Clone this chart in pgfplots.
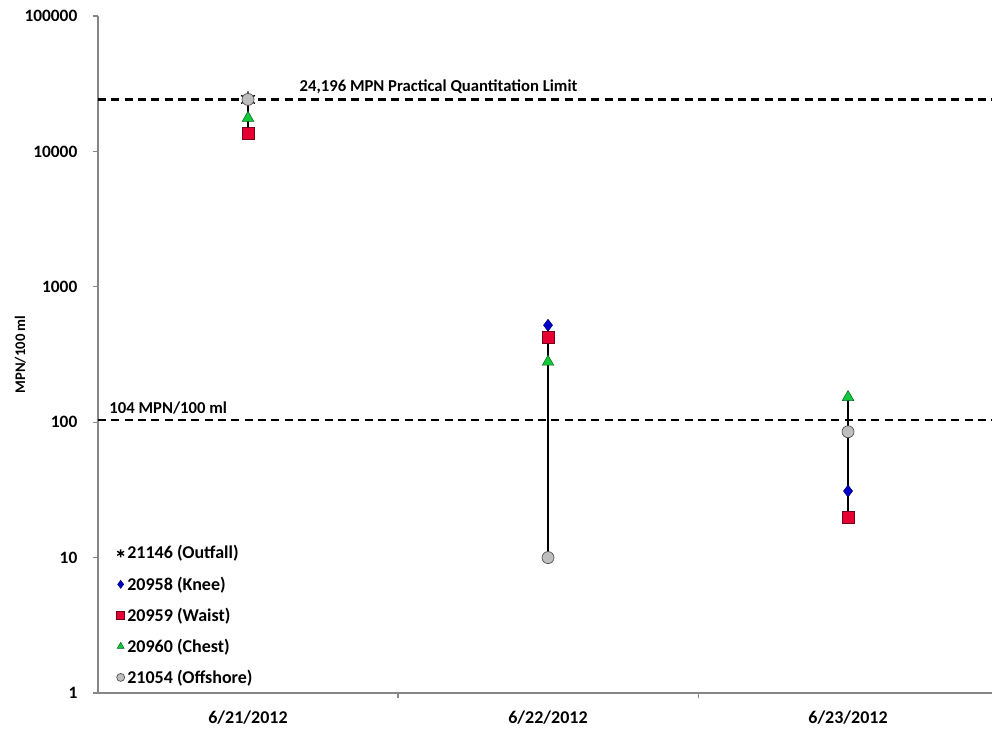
\documentclass[border=0pt]{standalone}
\usepackage{pgfplots}
\pgfplotsset{compat=1.18}
\usepackage{fontspec}
\setmainfont{Carlito}
\definecolor{axgrey}{RGB}{134,134,134}
\definecolor{kneeblue}{RGB}{0,0,200}
\definecolor{waistred}{RGB}{230,0,50}
\definecolor{chestgreen}{RGB}{20,200,60}
\definecolor{offgrey}{RGB}{190,190,190}
\begin{document}
\begin{tikzpicture}
\begin{axis}[
  name=ax,
  scale only axis,
  width=670.5pt, height=507.75pt,
  ymode=log,
  xmin=-0.5, xmax=2.48,
  ymin=1, ymax=100000,
  axis lines*=left,
  axis line style={axgrey, line width=0.8pt},
  tick style={axgrey, line width=0.8pt},
  tick align=outside,
  major tick length=4pt,
  ytick={1,10,100,1000,10000,100000},
  yticklabels={1,10,100,1000,10000,100000},
  yminorticks=false,
  xtick={0.5,1.5},
  xticklabels={},
  extra x ticks={0,1,2},
  extra x tick labels={6/21/2012,6/22/2012,6/23/2012},
  extra x tick style={major tick length=0pt, xticklabel style={yshift=-10pt, font=\fontsize{13.5}{15}\selectfont\bfseries}},
  ticklabel style={font=\fontsize{13}{15}\selectfont\bfseries},
  yticklabel style={xshift=-8pt},
  ylabel={MPN/100 ml},
  ylabel style={at={(axis description cs:-0.087,0.5)}, anchor=center, rotate=0, font=\fontsize{11}{13}\selectfont\bfseries},
  clip=false,
  legend style={at={(axis cs:-0.452,1.04)}, anchor=south west, draw=none, fill=none,
    font=\fontsize{13.5}{15}\selectfont\bfseries, row sep=7.75pt,
    legend cell align=left},
  legend image code/.code={\draw[#1, mark size=3pt] plot coordinates {(0.12cm,0cm)};},
]
% connectors
\addplot[black, line width=1.3pt, forget plot] coordinates {(0,13680) (0,24196)};
\addplot[black, line width=1.3pt, forget plot] coordinates {(1,10) (1,520)};
\addplot[black, line width=1.3pt, forget plot] coordinates {(2,20) (2,153)};
% limit lines
\addplot[black, line width=1.6pt, dash pattern=on 6pt off 4pt, forget plot] coordinates {(-0.5,24196) (2.48,24196)};
\addplot[black, line width=1.6pt, dash pattern=on 6pt off 4pt, forget plot] coordinates {(-0.5,104) (2.48,104)};
% series
\addplot[only marks, mark=asterisk, mark size=6pt, mark options={black, line width=1pt}] coordinates {(0,24196)};
\addlegendentry{21146 (Outfall)}
\addplot[only marks, mark=diamond*, mark size=4.5pt, mark options={fill=kneeblue, draw=kneeblue!60!black, line width=0.4pt}] coordinates {(1,520) (2,31)};
\addlegendentry{20958 (Knee)}
\addplot[only marks, mark=square*, mark size=4.5pt, mark options={fill=waistred, draw=waistred!50!black, line width=0.4pt}] coordinates {(0,13680) (1,426) (2,20)};
\addlegendentry{20959 (Waist)}
\addplot[only marks, mark=triangle*, mark size=5pt, mark options={fill=chestgreen, draw=chestgreen!50!black, line width=0.4pt}] coordinates {(0,17650) (1,279) (2,153)};
\addlegendentry{20960 (Chest)}
\addplot[only marks, mark=*, mark size=4.5pt, mark options={fill=offgrey, draw=black!70, line width=0.5pt}] coordinates {(0,24196) (1,10) (2,85)};
\addlegendentry{21054 (Offshore)}
\node[anchor=south west, font=\fontsize{12.5}{14}\selectfont\bfseries, inner sep=1pt] at (axis cs:0.167,24196) [yshift=3pt] {24,196 MPN Practical Quantitation Limit};
\node[anchor=south west, font=\fontsize{12.5}{14}\selectfont\bfseries, inner sep=1pt] at (axis cs:-0.467,104) [yshift=3pt] {104 MPN/100 ml};
\end{axis}
\pgfresetboundingbox
\path (ax.south west) ++(-73.5pt,-28.5pt) rectangle ++(744pt,548.25pt);
\end{tikzpicture}
\end{document}
